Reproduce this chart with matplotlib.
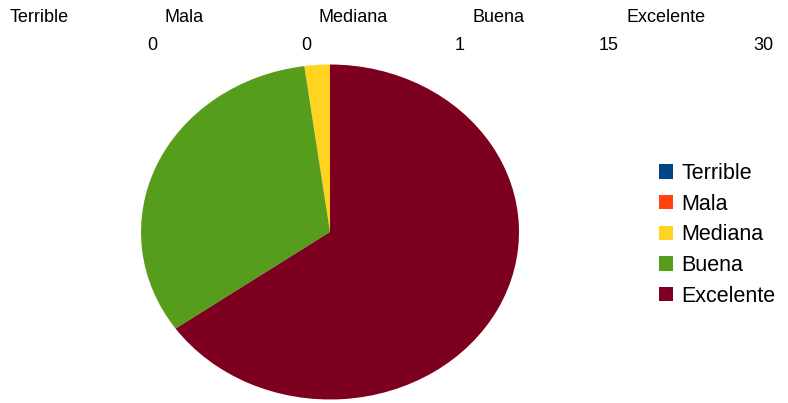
import matplotlib.pyplot as plt

plt.rcParams['font.family'] = ['Liberation Sans', 'DejaVu Sans']

# survey answers
categories = ['Terrible', 'Mala', 'Mediana', 'Buena', 'Excelente']
counts = [0, 0, 1, 15, 30]
colors = ['#004586', '#ff420e', '#ffd320', '#579d1c', '#7e0021']

W, H = 788, 403
fig = plt.figure(figsize=(W / 100, H / 100), dpi=100)

# header row: name over each column, value right aligned below
col_w = 154
for i, (name, val) in enumerate(zip(categories, counts)):
    x0 = 10 + col_w * i
    fig.text(x0 / W, 1 - 17 / H, name, ha='left', va='center', fontsize=13)
    fig.text((x0 + 147) / W, 1 - 45 / H, str(val), ha='right', va='center', fontsize=13)

# pie is drawn as an ellipse (stretched axes)
cx, cy, rx, ry = 330, 232, 189, 167.5
ax = fig.add_axes([(cx - rx) / W, 1 - (cy + ry) / H, 2 * rx / W, 2 * ry / H])
wedges, _ = ax.pie(counts, colors=colors, startangle=90, counterclock=True,
                   radius=1, wedgeprops=dict(linewidth=0))
ax.set_aspect('auto')
ax.set_xlim(-1, 1)
ax.set_ylim(-1, 1)
ax.axis('off')

leg = fig.legend(wedges, categories, loc='upper left',
                 bbox_to_anchor=(659 / W, 1 - 163 / H), frameon=False,
                 fontsize=15.5, handlelength=0.66, handleheight=0.66,
                 handletextpad=0.38, labelspacing=0.45, borderpad=0,
                 borderaxespad=0)

fig.savefig('out.png', dpi=100)
